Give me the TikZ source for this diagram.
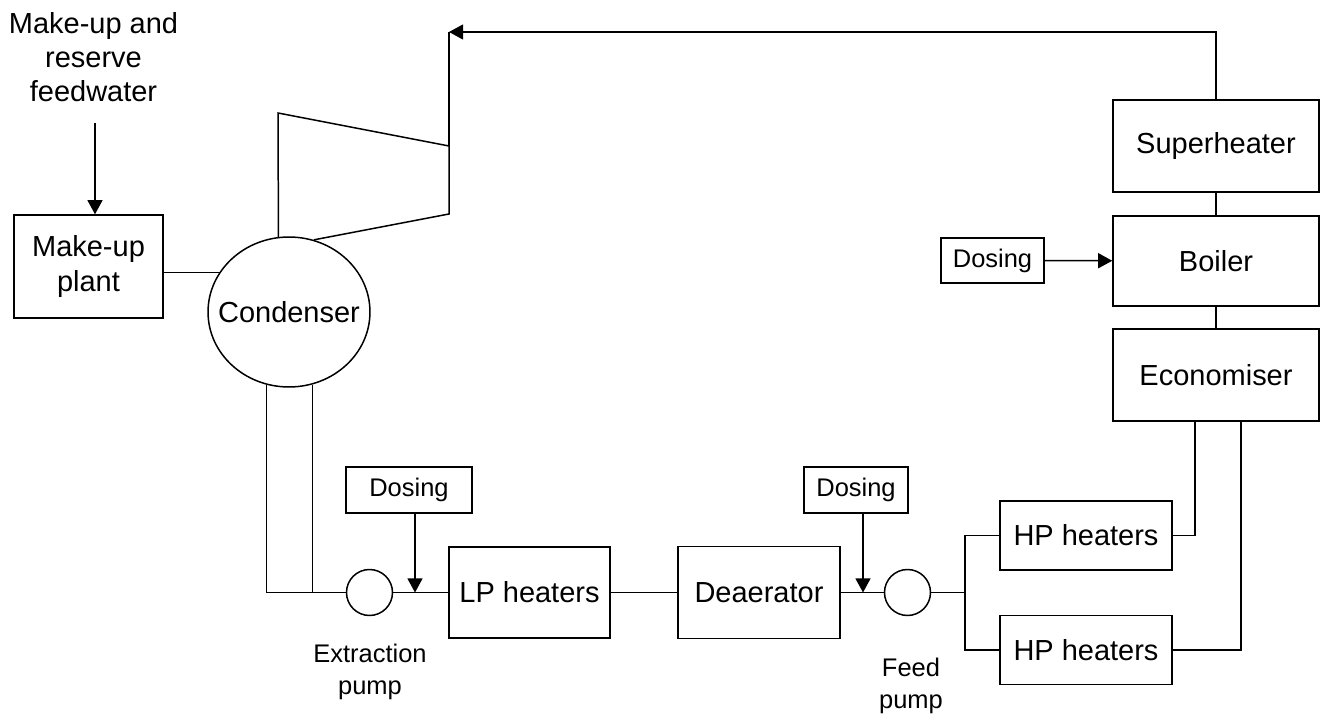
\documentclass[tikz,border=0pt]{standalone}
\usepackage{fontspec}
\setmainfont{Liberation Sans}
\newcommand*{\bigf}{\fontsize{16.5}{19.5}\selectfont}
\newcommand*{\smf}{\fontsize{14.5}{18}\selectfont}
\usetikzlibrary{positioning,calc,arrows.meta,shapes.geometric}
\tikzset{>={Triangle[length=8pt,width=8.5pt]}}

\begin{document}
\begin{tikzpicture}[x=0.02cm,y=-0.02cm,line width=0.85pt,
  unit/.style={draw,inner sep=0pt,align=center,font=\bigf},
  dosebox/.style={draw,inner sep=0pt,minimum height=0.92cm,font=\smf},
  pump/.style={draw,circle,inner sep=0pt,minimum size=0.92cm},
  lbl/.style={align=center,font=\smf}]
\useasboundingbox (0,0) rectangle (1322,715);

% Draw make-up plant and condenser
\node[align=center,font=\bigf] (feed) at (93.5,57)
  {Make-up and\\reserve\\feedwater};
\coordinate (fwin) at (95,123);
\node[unit,minimum width=2.98cm,minimum height=2.06cm] (mup) at (88.5,266.5)
  {Make-up\\plant};
\node[draw,ellipse,inner sep=0pt,minimum width=3.24cm,minimum height=3cm,
  label={[font=\bigf]center:Condenser}] (cond) at (289,312) {};
\draw[->] (fwin) -- (fwin |- mup.north);
\draw ($(mup.east)+(0,6)$) coordinate (mo) -- (mo -| cond.150);

% Draw turbine and steam return
\coordinate (tl) at (278,113);
\coordinate (tr) at (449,146);
\coordinate (br) at (449,214);
\coordinate (ta) at (449,32);
\draw (cond.98) -- (tl) -- (tr) -- (br) -- (cond.71.5);
\draw (tr) -- (ta);

% Draw boiler side
\node[unit,minimum width=4.12cm,minimum height=1.84cm] (sup) at (1216,146)
  {Superheater};
\node[unit,minimum width=4.12cm,minimum height=1.8cm] (boil) at (1216,261)
  {Boiler};
\node[unit,minimum width=4.12cm,minimum height=1.84cm] (econ) at (1216,375)
  {Economiser};
\node[dosebox,minimum width=2.06cm,minimum height=0.9cm] (dosb) at (992.5,260.5)
  {Dosing};
\draw[->] (sup) |- (ta);
\draw (sup) -- (boil);
\draw (boil) -- (econ);
\draw[->] (dosb) -- (boil);

% Draw feed line
\node[pump] (xp) at (369.5,592.5) {};
\node[unit,minimum width=3.22cm,minimum height=1.82cm] (lp) at (529.5,592.5)
  {LP heaters};
\node[unit,minimum width=3.24cm,minimum height=1.84cm] (dea) at (759,592.5)
  {Deaerator};
\node[pump] (fp) at (907.5,592.5) {};
\node[dosebox,minimum width=2.52cm] (dos1) at (409,490) {Dosing};
\node[dosebox,minimum width=2.08cm] (dos2) at (856,490) {Dosing};
\node[lbl] (xpl) at (370,672) {Extraction\\pump};
\node[lbl] (fpl) at (911,686) {Feed\\pump};
\draw (cond.253) |- (xp);
\draw (cond.288) -- (cond.288 |- xp.west);
\draw (xp) -- (lp);
\draw (lp) -- (dea);
\draw (dea) -- (fp);
\draw[->] ($(dos1.south)+(6,0)$) coordinate (d1) -- (d1 |- lp.west);
\draw[->] ($(dos2.south)+(7,0)$) coordinate (d2) -- (d2 |- dea.east);

% Draw HP heaters
\node[unit,minimum width=3.44cm,minimum height=1.38cm] (hp1) at (1086,535.5)
  {HP heaters};
\node[unit,minimum width=3.44cm,minimum height=1.38cm] (hp2) at (1086,650)
  {HP heaters};
\coordinate (sp) at (965,592.5);
\draw (fp) -- (sp);
\draw (hp1) -| (sp) |- (hp2);
\draw (hp1) -| ($(econ.south)+(-21,0)$);
\draw (hp2) -| ($(econ.south)+(25,0)$);
\end{tikzpicture}
\end{document}
